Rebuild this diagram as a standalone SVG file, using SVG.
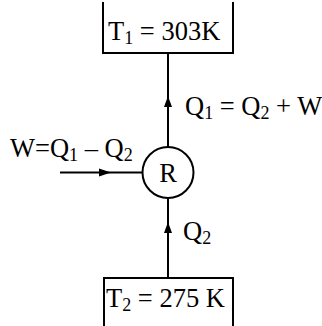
<svg xmlns="http://www.w3.org/2000/svg" width="322" height="326" viewBox="0 0 322 326">
<style>
.ln{stroke:#000;stroke-width:2;fill:none}
.t{font-family:"Liberation Serif","Times New Roman",serif;font-size:26.5px;fill:#000}
.s{font-size:18px}
</style>
<rect width="322" height="326" fill="#fff"/>
<g id="hot">
<path class="ln" d="M103,2 V53 H233 V2"/>
<text class="t" x="108" y="40">T<tspan class="s" dy="4">1</tspan><tspan dy="-4"> = 303K</tspan></text>
</g>
<g id="cold">
<path class="ln" d="M104,326 V278 H233 V326"/>
<text class="t" x="106" y="307">T<tspan class="s" dy="4">2</tspan><tspan dy="-4"> = 275 K</tspan></text>
</g>
<g id="R">
<circle class="ln" cx="168" cy="172.5" r="25.5"/>
<text class="t" x="168" y="181.5" text-anchor="middle">R</text>
</g>
<g id="connectors">
<path class="ln" d="M168,53 V147"/>
<path d="M164,107 L168,96 L172,107 Z"/>
<path class="ln" d="M168,198 V278"/>
<path d="M164,233 L168,222 L172,233 Z"/>
<path class="ln" d="M60,172.5 H142.5"/>
<path d="M99,168.5 L111,172.5 L99,176.5 Z"/>
</g>
<g id="labels">
<text class="t" x="185" y="115">Q<tspan class="s" dy="4">1</tspan><tspan dy="-4"> = Q</tspan><tspan class="s" dy="4">2</tspan><tspan dy="-4"> + W</tspan></text>
<text class="t" x="183" y="240">Q<tspan class="s" dy="4">2</tspan></text>
<text class="t" x="10" y="157">W=Q<tspan class="s" dy="4">1</tspan><tspan dy="-4"> – Q</tspan><tspan class="s" dy="4">2</tspan></text>
</g>
</svg>
